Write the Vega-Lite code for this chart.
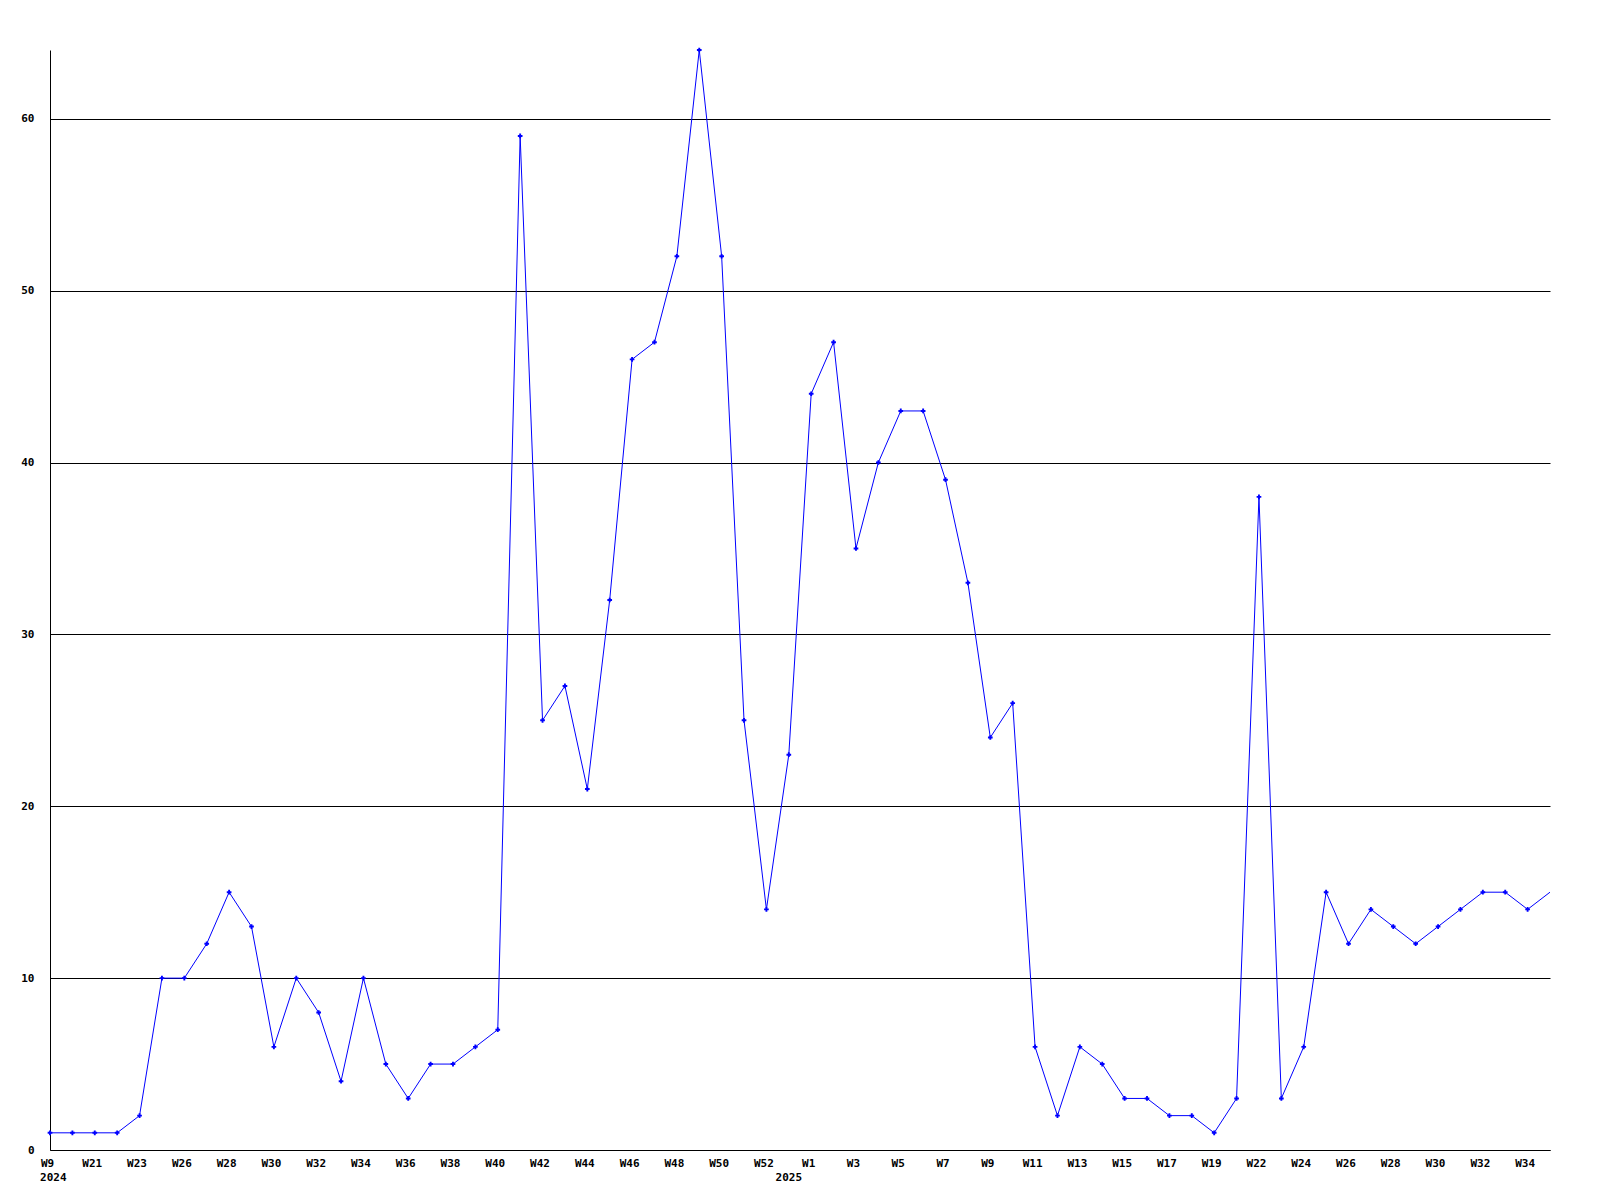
{
  "$schema": "https://vega.github.io/schema/vega-lite/v6.json",
  "autosize": {"type": "none"},
  "padding": {"left": 50, "top": 50, "right": 50, "bottom": 50},
  "width": 1500,
  "height": 1100,
  "background": "white",
  "config": {"view": {"stroke": null}},
  "datasets": {
    "series": [
      {"i": 0, "v": 1, "m": 1}, {"i": 1, "v": 1, "m": 1}, {"i": 2, "v": 1, "m": 1}, {"i": 3, "v": 1, "m": 1},
      {"i": 4, "v": 2, "m": 1}, {"i": 5, "v": 10, "m": 1}, {"i": 6, "v": 10, "m": 1}, {"i": 7, "v": 12, "m": 1},
      {"i": 8, "v": 15, "m": 1}, {"i": 9, "v": 13, "m": 1}, {"i": 10, "v": 6, "m": 1}, {"i": 11, "v": 10, "m": 1},
      {"i": 12, "v": 8, "m": 1}, {"i": 13, "v": 4, "m": 1}, {"i": 14, "v": 10, "m": 1}, {"i": 15, "v": 5, "m": 1},
      {"i": 16, "v": 3, "m": 1}, {"i": 17, "v": 5, "m": 1}, {"i": 18, "v": 5, "m": 1}, {"i": 19, "v": 6, "m": 1},
      {"i": 20, "v": 7, "m": 1}, {"i": 21, "v": 59, "m": 1}, {"i": 22, "v": 25, "m": 1}, {"i": 23, "v": 27, "m": 1},
      {"i": 24, "v": 21, "m": 1}, {"i": 25, "v": 32, "m": 1}, {"i": 26, "v": 46, "m": 1}, {"i": 27, "v": 47, "m": 1},
      {"i": 28, "v": 52, "m": 1}, {"i": 29, "v": 64, "m": 1}, {"i": 30, "v": 52, "m": 1}, {"i": 31, "v": 25, "m": 1},
      {"i": 32, "v": 14, "m": 1}, {"i": 33, "v": 23, "m": 1}, {"i": 34, "v": 44, "m": 1}, {"i": 35, "v": 47, "m": 1},
      {"i": 36, "v": 35, "m": 1}, {"i": 37, "v": 40, "m": 1}, {"i": 38, "v": 43, "m": 1}, {"i": 39, "v": 43, "m": 1},
      {"i": 40, "v": 39, "m": 1}, {"i": 41, "v": 33, "m": 1}, {"i": 42, "v": 24, "m": 1}, {"i": 43, "v": 26, "m": 1},
      {"i": 44, "v": 6, "m": 1}, {"i": 45, "v": 2, "m": 1}, {"i": 46, "v": 6, "m": 1}, {"i": 47, "v": 5, "m": 1},
      {"i": 48, "v": 3, "m": 1}, {"i": 49, "v": 3, "m": 1}, {"i": 50, "v": 2, "m": 1}, {"i": 51, "v": 2, "m": 1},
      {"i": 52, "v": 1, "m": 1}, {"i": 53, "v": 3, "m": 1}, {"i": 54, "v": 38, "m": 1}, {"i": 55, "v": 3, "m": 1},
      {"i": 56, "v": 6, "m": 1}, {"i": 57, "v": 15, "m": 1}, {"i": 58, "v": 12, "m": 1}, {"i": 59, "v": 14, "m": 1},
      {"i": 60, "v": 13, "m": 1}, {"i": 61, "v": 12, "m": 1}, {"i": 62, "v": 13, "m": 1}, {"i": 63, "v": 14, "m": 1},
      {"i": 64, "v": 15, "m": 1}, {"i": 65, "v": 15, "m": 1}, {"i": 66, "v": 14, "m": 1}, {"i": 67, "v": 15, "m": 0}
    ],
    "years": [
      {"i": 0.15, "v": 0, "year": "2024"},
      {"i": 33, "v": 0, "year": "2025"}
    ]
  },
  "layer": [
    {
      "data": {"name": "series"},
      "mark": {"type": "line", "color": "#0000ff", "strokeWidth": 1, "clip": true},
      "encoding": {
        "x": {
          "field": "i", "type": "quantitative",
          "scale": {"domain": [0, 67], "nice": false, "zero": false},
          "axis": {
            "title": null,
            "values": [0,2,4,6,8,10,12,14,16,18,20,22,24,26,28,30,32,34,36,38,40,42,44,46,48,50,52,54,56,58,60,62,64,66],
            "labelExpr": "['W9','W21','W23','W26','W28','W30','W32','W34','W36','W38','W40','W42','W44','W46','W48','W50','W52','W1','W3','W5','W7','W9','W11','W13','W15','W17','W19','W22','W24','W26','W28','W30','W32','W34'][round(datum.value/2)]",
            "grid": false,
            "ticks": false,
            "domain": true,
            "domainColor": "#000000",
            "domainWidth": 1,
            "labelFont": "DejaVu Sans Mono",
            "labelFontWeight": "bold",
            "labelFontSize": 11,
            "labelColor": "#000000",
            "labelPadding": 7,
            "labelOffset": -3,
            "labelOverlap": false,
            "labelFlush": false,
            "labelBound": false
          }
        },
        "y": {
          "field": "v", "type": "quantitative",
          "scale": {"domain": [0, 64], "nice": false},
          "axis": {
            "title": null,
            "values": [0,10,20,30,40,50,60],
            "grid": true,
            "gridColor": "#000000",
            "gridOpacity": 1,
            "gridWidth": 1,
            "ticks": false,
            "domain": true,
            "domainColor": "#000000",
            "domainWidth": 1,
            "labelFont": "DejaVu Sans Mono",
            "labelFontWeight": "bold",
            "labelFontSize": 11,
            "labelColor": "#000000",
            "labelPadding": 16,
            "labelOverlap": false,
            "labelFlush": false
          }
        }
      }
    },
    {
      "data": {"name": "series"},
      "transform": [{"filter": "datum.m == 1"}],
      "mark": {"type": "point", "shape": "cross", "filled": true, "color": "#0000ff", "size": 22, "opacity": 1},
      "encoding": {
        "x": {"field": "i", "type": "quantitative"},
        "y": {"field": "v", "type": "quantitative"}
      }
    },
    {
      "data": {"name": "years"},
      "mark": {"type": "text", "font": "DejaVu Sans Mono", "fontWeight": "bold", "fontSize": 11, "color": "#000000", "baseline": "top", "align": "center", "dy": 22},
      "encoding": {
        "x": {"field": "i", "type": "quantitative"},
        "y": {"field": "v", "type": "quantitative"},
        "text": {"field": "year"}
      }
    }
  ]
}
